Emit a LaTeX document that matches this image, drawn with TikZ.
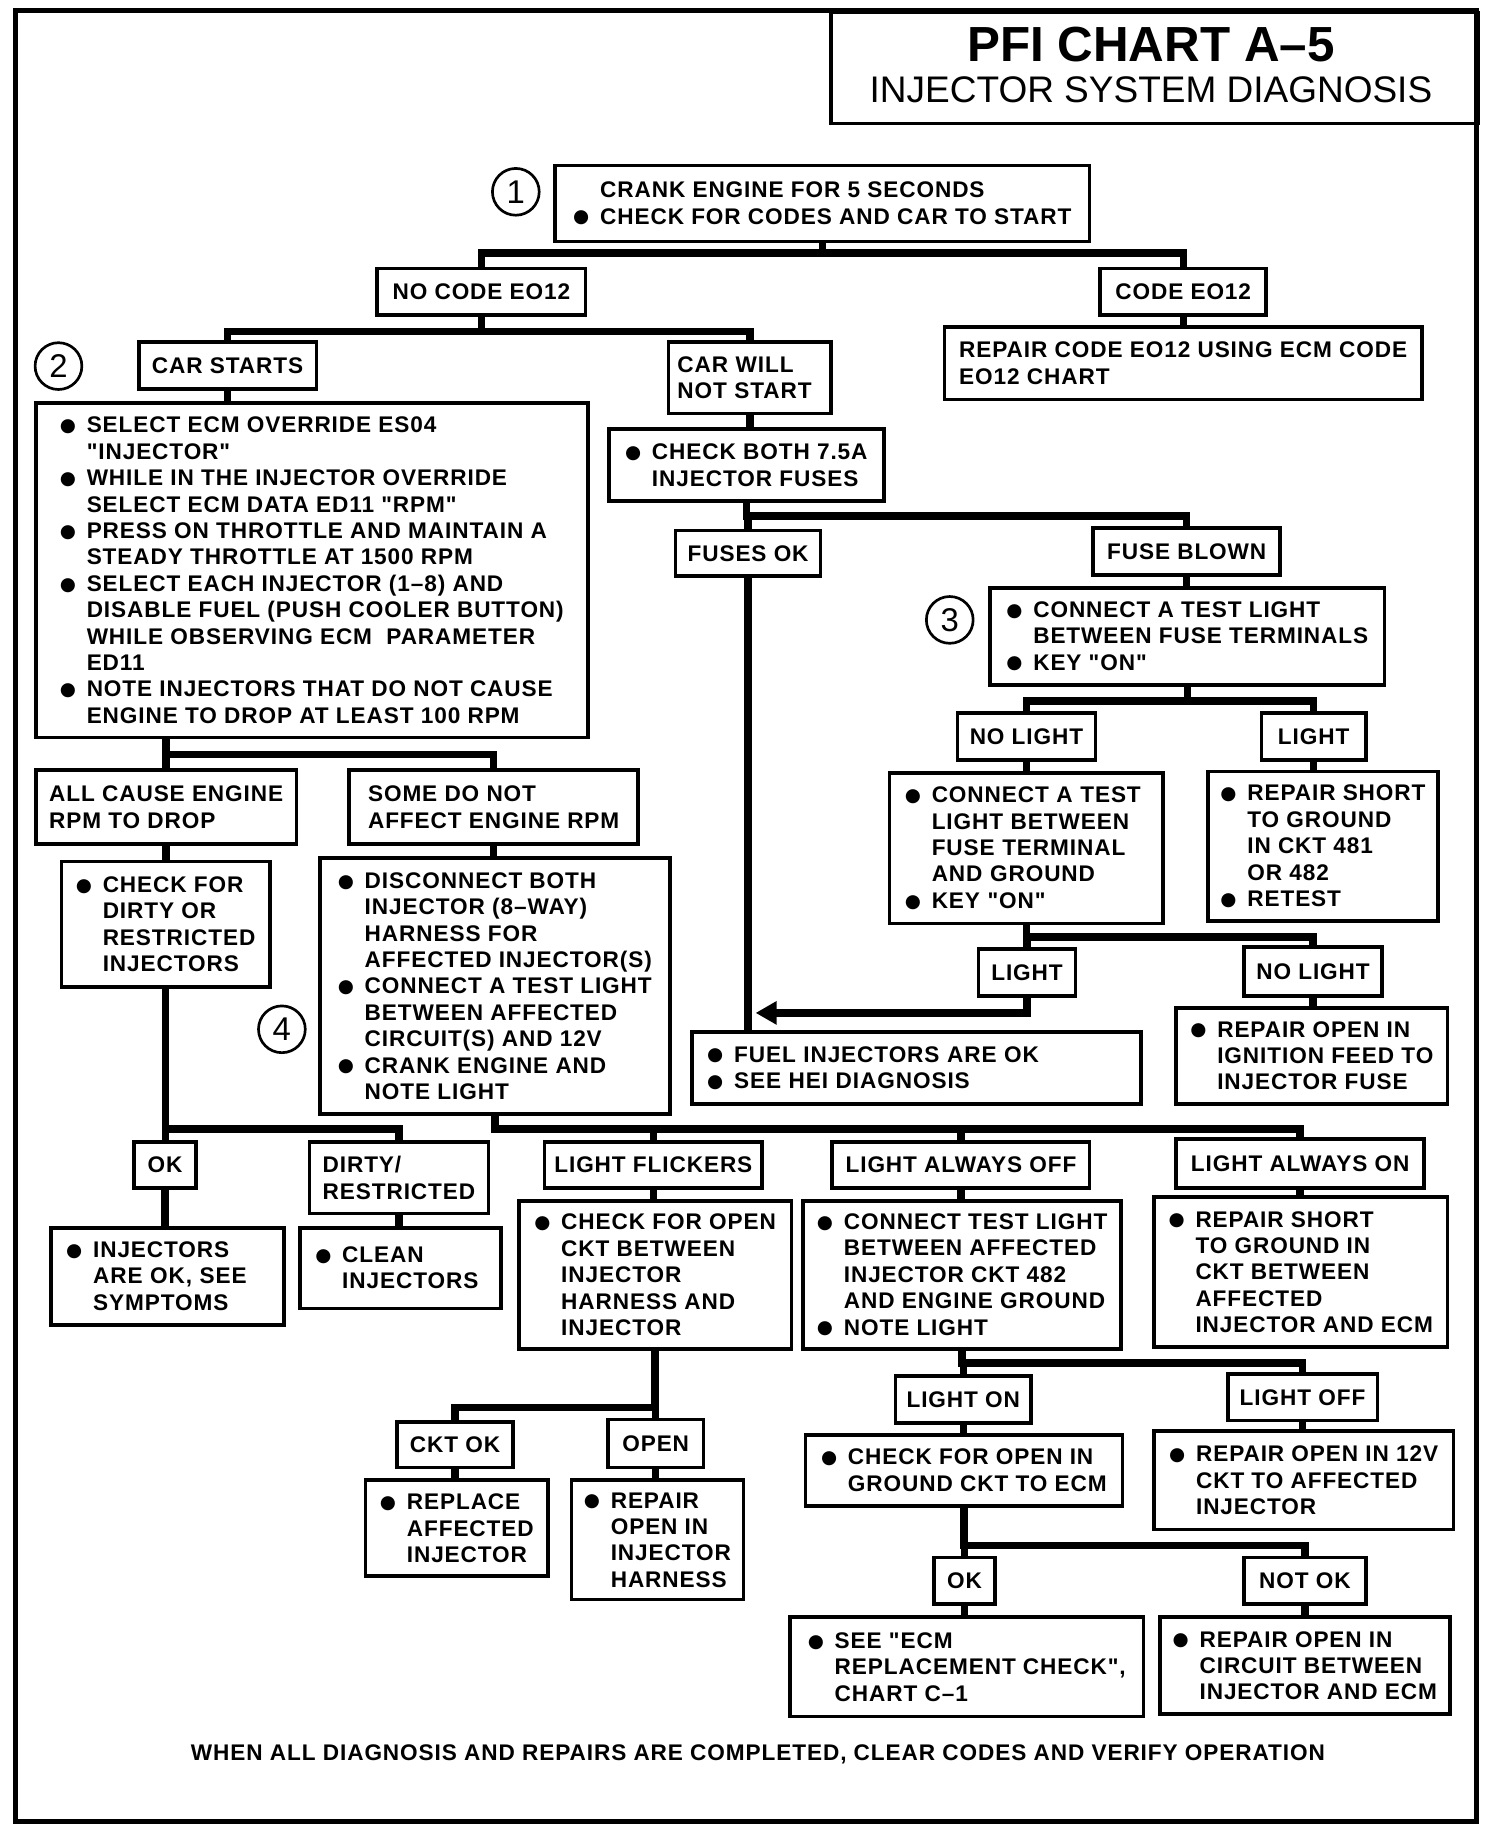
\documentclass[tikz,border=0pt]{standalone}
\usepackage{fontspec}
\setmainfont{Liberation Sans}[LetterSpace=4, Ligatures=TeXOff]
\newfontfamily\headfont{Liberation Sans}
\newfontfamily\dotfont{DejaVu Sans}
\usetikzlibrary{arrows.meta,positioning,calc}

\newcommand\bul{\makebox[1.19em][l]{\raisebox{0.6pt}{\dotfont\fontsize{9}{9}\selectfont ●}}}
\newcommand\ind{\hspace*{1.19em}}

\tikzset{
  box/.style={draw, line width=1.8pt, anchor=north west, align=left, inner xsep=4pt, inner ysep=2pt,
    font=\fontsize{11}{12.85}\selectfont\bfseries},
  sz/.style 2 args={minimum width=#1*0.02cm, minimum height=#2*0.02cm},
  link/.style={line width=3.6pt},
  num/.style={draw, circle, line width=1.3pt, minimum size=0.8cm, inner sep=0pt,
    font=\headfont\fontsize{16}{16}\selectfont}
}

\begin{document}
\begin{tikzpicture}[x=0.02cm, y=-0.02cm]
    \useasboundingbox (0,0) rectangle (1286,1568);
    \draw[line width=2.4pt] (13,9) rectangle (1262,1557);

    % Title
    \node[draw, line width=1.8pt, anchor=north west, minimum width=553*0.02cm, minimum height=95*0.02cm] (titlebox) at (709,9) {};
    \node[font=\headfont\fontsize{24}{24}\selectfont\bfseries] (title) at (984,38) {PFI CHART A–5};
    \node[font=\headfont\fontsize{18}{18}\selectfont] (subtitle) at (984,77) {INJECTOR SYSTEM DIAGNOSIS};

    % Start
    \node[num] (n1) at (441,164) {1};
    \node[box, sz={457}{65}] (crank) at (473,140) {\ind CRANK ENGINE FOR 5 SECONDS\\\bul CHECK FOR CODES AND CAR TO START};
    \node[box, sz={178}{40}, align=center] (nocode) at (321,228) {NO CODE EO12};
    \node[box, sz={142}{40}, align=center] (code) at (939,228) {CODE EO12};
    \node[box, sz={408}{62}] (repcode) at (806,278) {REPAIR CODE EO12 USING ECM CODE\\EO12 CHART};

    % Car starts
    \node[num] (n2) at (50,313) {2};
    \node[box, sz={152}{40}, align=center] (starts) at (117,291) {CAR STARTS};
    \node[box, sz={472}{286}] (override) at (29,343) {\bul SELECT ECM OVERRIDE ES04\\\ind "INJECTOR"\\\bul WHILE IN THE INJECTOR OVERRIDE\\\ind SELECT ECM DATA ED11 "RPM"\\\bul PRESS ON THROTTLE AND MAINTAIN A\\\ind STEADY THROTTLE AT 1500 RPM\\\bul SELECT EACH INJECTOR (1–8) AND\\\ind DISABLE FUEL (PUSH COOLER BUTTON)\\\ind WHILE OBSERVING ECM\ \ PARAMETER\\\ind ED11\\\bul NOTE INJECTORS THAT DO NOT CAUSE\\\ind ENGINE TO DROP AT LEAST 100 RPM};
    \node[box, sz={223}{63}] (allcause) at (29,657) {ALL CAUSE ENGINE\\RPM TO DROP};
    \node[box, sz={247}{63}] (somenot) at (297,657) {SOME DO NOT\\AFFECT ENGINE RPM};
    \node[box, sz={178}{107}] (dirty) at (51,735) {\bul CHECK FOR\\\ind DIRTY OR\\\ind RESTRICTED\\\ind INJECTORS};
    \node[num] (n4) at (241,880) {4};
    \node[box, sz={299}{219}] (disc) at (272,732) {\bul DISCONNECT BOTH\\\ind INJECTOR (8–WAY)\\\ind HARNESS FOR\\\ind AFFECTED INJECTOR(S)\\\bul CONNECT A TEST LIGHT\\\ind BETWEEN AFFECTED\\\ind CIRCUIT(S) AND 12V\\\bul CRANK ENGINE AND\\\ind NOTE LIGHT};
    \node[box, sz={53}{39}, align=center] (ok1) at (113,975) {OK};
    \node[box, sz={153}{61}] (dirtyr) at (263,975) {DIRTY/\\RESTRICTED};
    \node[box, sz={199}{83}, text width=3.46cm] (injok) at (42,1048) {\bul INJECTORS\\\ind ARE OK, SEE\\\ind SYMPTOMS};
    \node[box, sz={172}{69}, text width=2.92cm] (clean) at (255,1048) {\bul CLEAN\\\ind INJECTORS};
    \node[box, sz={186}{39}, align=center] (flick) at (464,975) {LIGHT FLICKERS};
    \node[box, sz={220}{39}, align=center] (aoff) at (710,975) {LIGHT ALWAYS OFF};
    \node[box, sz={212}{42}, align=center] (aon) at (1004,972) {LIGHT ALWAYS ON};
    \node[box, sz={233}{127}] (openchk) at (442,1025) {\bul CHECK FOR OPEN\\\ind CKT BETWEEN\\\ind INJECTOR\\\ind HARNESS AND\\\ind INJECTOR};
    \node[box, sz={272}{127}] (ckt482) at (685,1025) {\bul CONNECT TEST LIGHT\\\ind BETWEEN AFFECTED\\\ind INJECTOR CKT 482\\\ind AND ENGINE GROUND\\\bul NOTE LIGHT};
    \node[box, sz={251}{128}] (shortecm) at (985,1022) {\bul REPAIR SHORT\\\ind TO GROUND IN\\\ind CKT BETWEEN\\\ind AFFECTED\\\ind INJECTOR AND ECM};
    \node[box, sz={99}{39}, align=center] (cktok) at (338,1214) {CKT OK};
    \node[box, sz={82}{41}, align=center] (open) at (518,1212) {OPEN};
    \node[box, sz={156}{82}] (replace) at (311,1264) {\bul REPLACE\\\ind AFFECTED\\\ind INJECTOR};
    \node[box, sz={147}{102}] (harness) at (487,1264) {\bul REPAIR\\\ind OPEN IN\\\ind INJECTOR\\\ind HARNESS};
    \node[box, sz={116}{40}, align=center] (lon) at (764,1175) {LIGHT ON};
    \node[box, sz={128}{40}, align=center] (loff) at (1048,1173) {LIGHT OFF};
    \node[box, sz={271}{61}] (gndopen) at (687,1225) {\bul CHECK FOR OPEN IN\\\ind GROUND CKT TO ECM};
    \node[box, sz={256}{84}] (open12) at (985,1222) {\bul REPAIR OPEN IN 12V\\\ind CKT TO AFFECTED\\\ind INJECTOR};
    \node[box, sz={52}{40}, align=center] (ok2) at (797,1330) {OK};
    \node[box, sz={104}{40}, align=center] (notok) at (1062,1330) {NOT OK};
    \node[box, sz={302}{85}] (ecm) at (674,1381) {\bul SEE "ECM\\\ind REPLACEMENT CHECK",\\\ind CHART C–1};
    \node[box, sz={248}{83}] (circ) at (990,1381) {\bul REPAIR OPEN IN\\\ind CIRCUIT BETWEEN\\\ind INJECTOR AND ECM};

    % Car will not start
    \node[box, sz={139}{61}, text width=2.48cm] (nostart) at (570,291) {CAR WILL\\NOT START};
    \node[box, sz={235}{62}] (fuses) at (519,365) {\bul CHECK BOTH 7.5A\\\ind INJECTOR FUSES};
    \node[box, sz={124}{39}, align=center] (fusesok) at (576,452) {FUSES OK};
    \node[box, sz={160}{40}, align=center] (blown) at (933,450) {FUSE BLOWN};
    \node[num] (n3) at (812,530) {3};
    \node[box, sz={337}{83}] (fusetest) at (845,501) {\bul CONNECT A TEST LIGHT\\\ind BETWEEN FUSE TERMINALS\\\bul KEY "ON"};
    \node[box, sz={118}{40}, align=center] (nolight) at (817,608) {NO LIGHT};
    \node[box, sz={89}{40}, align=center] (light) at (1077,608) {LIGHT};
    \node[box, sz={234}{129}, text width=4.16cm] (gndtest) at (759,659) {\bul CONNECT A TEST\\\ind LIGHT BETWEEN\\\ind FUSE TERMINAL\\\ind AND GROUND\\\bul KEY "ON"};
    \node[box, sz={197}{128}] (short) at (1031,658) {\bul REPAIR SHORT\\\ind TO GROUND\\\ind IN CKT 481\\\ind OR 482\\\bul RETEST};
    \node[box, sz={83}{40}, align=center] (light2) at (835,810) {LIGHT};
    \node[box, sz={118}{42}, align=center] (nolight2) at (1062,808) {NO LIGHT};
    \node[box, sz={232}{82}] (ignfeed) at (1004,860) {\bul REPAIR OPEN IN\\\ind IGNITION FEED TO\\\ind INJECTOR FUSE};
    \node[box, sz={384}{61}, text width=7.16cm] (fuelok) at (590,881) {\bul FUEL INJECTORS ARE OK\\\bul SEE HEI DIAGNOSIS};
    \coordinate (okin) at (646,866);

    \node[font=\fontsize{11}{13}\selectfont\bfseries] (footer) at (648,1500) {WHEN ALL DIAGNOSIS AND REPAIRS ARE COMPLETED, CLEAR CODES AND VERIFY OPERATION};

    % Connectors
    \draw[link] (crank.south) -- ++(0,8) -| (nocode.north);
    \draw[link] (crank.south) -- ++(0,8) -| (code.north);
    \draw[link] (code.south) -- (code.south |- repcode.north);
    \draw[link] (nocode.south) -- ++(0,12) -| (starts.north);
    \draw[link] (nocode.south) -- ++(0,12) -| (nostart.north);
    \draw[link] (starts.south) -- (starts.south |- override.north);
    \draw[link] (override.south -| allcause.north) -- (allcause.north);
    \draw[link] (override.south -| allcause.north) -- ++(0,13) -| (somenot.north);
    \draw[link] (allcause.south) -- (allcause.south |- dirty.north);
    \draw[link] (somenot.south) -- (somenot.south |- disc.north);
    \draw[link] (dirty.south) -- (dirty.south |- ok1.north);
    \draw[link] (dirty.south) -- ++(0,120) -| (dirtyr.north);
    \draw[link] (ok1.south) -- (ok1.south |- injok.north);
    \draw[link] (dirtyr.south) -- (dirtyr.south |- clean.north);
    \draw[link] (disc.south) -- ++(0,11) -| (flick.north);
    \draw[link] (disc.south) -- ++(0,11) -| (aoff.north);
    \draw[link] (disc.south) -- ++(0,11) -| (aon.north);
    \draw[link] (flick.south) -- (flick.south |- openchk.north);
    \draw[link] (aoff.south) -- (aoff.south |- ckt482.north);
    \draw[link] (aon.south) -- (aon.south |- shortecm.north);
    \draw[link] (openchk.south) -- ++(0,48) -| (cktok.north);
    \draw[link] (openchk.south) -- ++(0,48) -| (open.north);
    \draw[link] (cktok.south) -- (cktok.south |- replace.north);
    \draw[link] (open.south) -- (open.south |- harness.north);
    \draw[link] (ckt482.south) -- ++(0,10) -| (lon.north);
    \draw[link] (ckt482.south) -- ++(0,10) -| (loff.north);
    \draw[link] (lon.south) -- (lon.south |- gndopen.north);
    \draw[link] (loff.south) -- (loff.south |- open12.north);
    \draw[link] (gndopen.south) -- ++(0,32) -| (ok2.north);
    \draw[link] (gndopen.south) -- ++(0,32) -| (notok.north);
    \draw[link] (ok2.south) -- (ok2.south |- ecm.north);
    \draw[link] (notok.south) -- (notok.south |- circ.north);

    \draw[link] (nostart.south) -- (nostart.south |- fuses.north);
    \draw[link] (fuses.south) -- ++(0,11) -| (fusesok.north);
    \draw[link] (fuses.south) -- ++(0,11) -| (blown.north);
    \draw[link] (fusesok.south) -- (fusesok.south |- fuelok.north);
    \draw[link] (blown.south) -- (blown.south |- fusetest.north);
    \draw[link] (fusetest.south) -- ++(0,12) -| (nolight.north);
    \draw[link] (fusetest.south) -- ++(0,12) -| (light.north);
    \draw[link] (nolight.south) -- (nolight.south |- gndtest.north);
    \draw[link] (light.south) -- (light.south |- short.north);
    \draw[link] (gndtest.south) -- ++(0,10) -| (light2.north);
    \draw[link] (gndtest.south) -- ++(0,10) -| (nolight2.north);
    \draw[link] (nolight2.south) -- (nolight2.south |- ignfeed.north);
    \draw[link, -{Triangle[length=0.36cm, width=0.38cm]}] (light2.south) |- (okin);
\end{tikzpicture}
\end{document}
